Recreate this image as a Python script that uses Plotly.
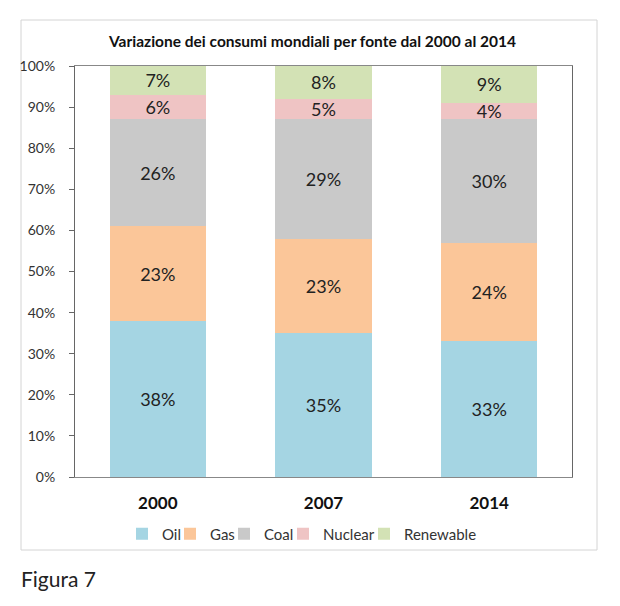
import plotly.graph_objects as go

years = ["2000", "2007", "2014"]
oil = [38, 35, 33]
gas = [23, 23, 24]
coal = [26, 29, 30]
nuclear = [6, 5, 4]
renewable = [7, 8, 9]

series_names = ["Oil", "Gas", "Coal", "Nuclear", "Renewable"]
series_values = [oil, gas, coal, nuclear, renewable]
series_colors = ["#a5d5e3", "#fbc699", "#c9c9c9", "#efc4c4", "#d3e2b5"]
legend_text_x = [162, 210, 264, 323, 404]  # pixel x where legend text starts

FONT = "Lato, Open Sans, sans-serif"

L, R, T, B = 75, 48, 66, 129
W, H = 620, 606
pw, ph = W - L - R, H - T - B

def px(x):
    return (x - L) / pw

def py(y):
    return (H - B - y) / ph

fig = go.Figure()
legend_layouts = {}
for i, (name, vals, col) in enumerate(zip(series_names, series_values, series_colors)):
    lname = "legend" if i == 0 else f"legend{i + 1}"
    fig.add_trace(go.Bar(
        x=years, y=vals, name=name,
        marker=dict(color=col, line=dict(width=0)),
        text=[f"{v}%" for v in vals],
        textposition="inside",
        insidetextanchor="middle",
        constraintext="none",
        textfont=dict(size=18, color="#222222", family=FONT),
        hoverinfo="skip",
        legend=lname,
    ))
    legend_layouts[lname] = dict(
        orientation="h", x=px(legend_text_x[i] - 40), xanchor="left",
        y=py(534), yanchor="middle", bgcolor="rgba(0,0,0,0)", borderwidth=0,
        font=dict(size=15, color="#333333"), itemwidth=30,
    )

fig.update_layout(
    barmode="stack",
    bargap=0.42,
    width=W, height=H,
    margin=dict(l=L, r=R, t=T, b=B),
    paper_bgcolor="white",
    plot_bgcolor="white",
    font=dict(family=FONT, color="#333333"),
    uniformtext=dict(minsize=18, mode="show"),
    showlegend=True,
    xaxis=dict(
        showgrid=False, ticks="", tickfont=dict(size=17, color="#111111", family=FONT, weight="bold"),
        showline=True, linecolor="#888888", linewidth=1, mirror=True,
        ticklabelstandoff=11,
    ),
    yaxis=dict(
        range=[0, 100], dtick=10, ticksuffix="%", showgrid=False,
        ticks="outside", ticklen=5, tickcolor="#666666",
        tickfont=dict(size=14, color="#333333"),
        showline=True, linecolor="#666666", linewidth=1, mirror=True,
        zeroline=False, ticklabelstandoff=11,
    ),
    shapes=[
        dict(type="rect", xref="paper", yref="paper",
             x0=px(21), x1=px(597), y0=py(550), y1=py(20),
             line=dict(color="#d4d4d4", width=1), fillcolor="rgba(0,0,0,0)", layer="below"),
    ],
    annotations=[
        dict(text="<b>Variazione dei consumi mondiali per fonte dal 2000 al 2014</b>",
             xref="paper", yref="paper", x=px(312), y=py(41), showarrow=False,
             xanchor="center", yanchor="middle", font=dict(size=15.5, color="#111111")),
        dict(text="Figura 7", xref="paper", yref="paper", x=px(19), y=py(578),
             showarrow=False, xanchor="left", yanchor="middle",
             font=dict(size=21, color="#222222")),
    ],
    **legend_layouts,
)

fig.write_html("out.html")
